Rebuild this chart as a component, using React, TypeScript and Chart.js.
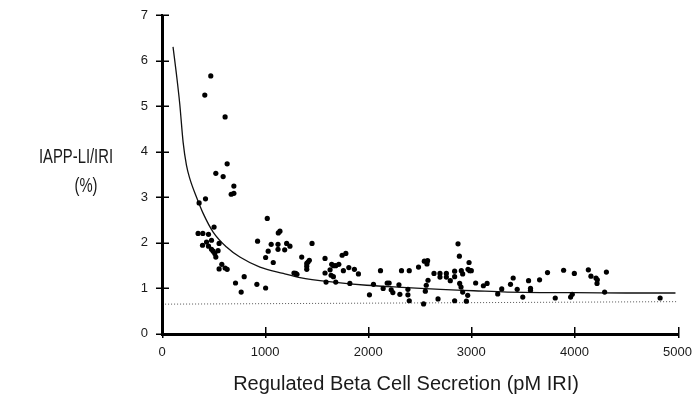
import React, { useEffect, useRef } from "react";
import { Chart, registerables } from "chart.js";

Chart.register(...registerables);

// Regulated beta cell secretion (pM IRI)
const secretionX: number[] = [
  473, 415, 612, 632, 522, 593, 697, 671, 697, 422, 360, 505, 350, 396, 451, 480, 432, 554, 393, 451,
  480, 496, 512, 522, 544, 580, 554, 612, 632, 927, 797, 713, 768, 920, 1021, 1128, 1144, 1059, 1125, 1209,
  1241, 1455, 1030, 1125, 1190, 1005, 1079, 1355, 1429, 1416, 1404, 1404, 1404, 1581, 1280, 1297, 1309, 1581, 1630, 1646,
  1662, 1685, 1715, 1747, 1783, 1759, 1812, 1640, 1662, 1866, 1905, 1591, 1685, 1822, 1005, 2051, 2012, 2119, 2145, 2184,
  2203, 2223, 2239, 2298, 2307, 2323, 2385, 2385, 2398, 2398, 2488, 2544, 2576, 2570, 2580, 2563, 2554, 2537, 2638, 2696,
  2696, 2758, 2758, 2677, 2796, 2838, 2838, 2871, 2884, 2887, 2900, 2838, 2903, 2916, 2916, 2965, 2952, 2978, 2968, 2984,
  3000, 3042, 3117, 3153, 3256, 3295, 3380, 3406, 3445, 3499, 3555, 3574, 3574, 3662, 3739, 3814, 3895, 3999, 3963, 3979,
  4135, 4160, 4209, 4222, 4219, 4310, 4293, 4831,
];
// IAPP-LI/IRI (%)
const ratioY: number[] = [
  5.66, 5.24, 4.76, 3.73, 3.52, 3.45, 3.24, 3.06, 3.08, 2.96, 2.87, 2.34, 2.2, 2.2, 2.18, 2.05, 2.01, 1.98, 1.94, 1.92,
  1.85, 1.81, 1.76, 1.68, 1.82, 1.52, 1.42, 1.44, 1.41, 2.03, 1.25, 1.11, 0.91, 1.08, 2.53, 2.21, 2.25, 1.96, 1.96, 1.98,
  1.92, 1.98, 1.81, 1.85, 1.84, 1.67, 1.56, 1.68, 1.61, 1.57, 1.54, 1.48, 1.41, 1.65, 1.33, 1.32, 1.3, 1.33, 1.4, 1.52,
  1.49, 1.49, 1.52, 1.72, 1.76, 1.38, 1.45, 1.28, 1.25, 1.41, 1.31, 1.13, 1.13, 1.1, 1.0, 1.08, 0.85, 1.38, 0.99, 1.11,
  1.11, 0.96, 0.9, 1.07, 0.86, 1.38, 0.97, 0.85, 0.72, 1.38, 1.46, 1.59, 1.6, 1.53, 1.17, 1.06, 0.93, 0.65, 1.32, 1.32,
  1.24, 1.32, 1.24, 0.76, 1.16, 1.37, 1.25, 1.97, 1.7, 1.1, 1.02, 0.72, 1.38, 1.31, 0.91, 0.84, 0.71, 1.56, 1.41, 1.38,
  1.38, 1.11, 1.05, 1.1, 0.87, 0.98, 1.08, 1.22, 0.97, 0.8, 1.16, 0.99, 0.95, 1.18, 1.34, 0.78, 1.39, 1.32, 0.8, 0.86,
  1.4, 1.26, 1.22, 1.18, 1.1, 1.35, 0.91, 0.78,
];

// Fitted curve
const fitX: number[] = [107, 140, 172, 205, 237, 269, 334, 399, 496, 626, 755, 950, 1176, 1338, 1662, 1986, 2376, 2700, 3023, 3348, 3671, 4000, 4500, 4980];
const fitY: number[] = [6.3, 5.7, 5.05, 4.2, 3.7, 3.41, 3.0, 2.64, 2.23, 1.9, 1.68, 1.46, 1.32, 1.23, 1.13, 1.06, 1.01, 0.97, 0.94, 0.91, 0.9, 0.9, 0.89, 0.89];

// Dotted reference line
const refX: number[] = [30, 5000];
const refY: number[] = [0.645, 0.7];

const xTicks: number[] = [0, 1000, 2000, 3000, 4000, 5000];
const yTicks: number[] = [0, 1, 2, 3, 4, 5, 6, 7];

const yTitle: string[] = ["IAPP-LI/IRI", "(%)"];
const xTitle = "Regulated Beta Cell Secretion (pM IRI)";

const FONT = "'Liberation Sans', Arial, Helvetica, sans-serif";

export default function App() {
  const ref = useRef<HTMLCanvasElement | null>(null);

  useEffect(() => {
    document.body.style.margin = "0";
    const canvas = ref.current!;
    const decor = {
      id: "decor",
      afterDraw(chart: any) {
        const ctx = chart.ctx;
        const xs = chart.scales.x;
        const ys = chart.scales.y;
        const L = Math.round(xs.getPixelForValue(0));
        const T = Math.round(ys.getPixelForValue(7));
        const B = Math.round(ys.getPixelForValue(0));
        const R = Math.round(xs.getPixelForValue(5000));
        ctx.save();
        ctx.setLineDash([]);
        ctx.globalAlpha = 1;
        ctx.globalCompositeOperation = "source-over";
        ctx.fillStyle = "#000";
        // axis lines
        ctx.fillRect(L - 1, T, 3, B - T + 2);
        ctx.fillRect(L - 1, B - 1, R - L + 2, 3);
        // x ticks: mostly inward, a little outward
        for (const v of xTicks) {
          const px = Math.round(xs.getPixelForValue(v));
          ctx.fillRect(px, B - 7, 1.5, 11);
        }
        // y ticks: crossing the axis
        for (const v of yTicks) {
          const py = Math.round(ys.getPixelForValue(v));
          ctx.fillRect(L - 6, py - 0.5, 13, 1.5);
        }
        ctx.fillStyle = "#1a1a1a";
        ctx.textBaseline = "middle";
        ctx.textAlign = "center";
        ctx.font = `20px ${FONT}`;
        // y title in the narrow face of the source figure
        ctx.save();
        ctx.translate(76, 157);
        ctx.scale(0.74, 1);
        ctx.fillText(yTitle[0], 0, 0);
        ctx.restore();
        ctx.save();
        ctx.translate(86, 186);
        ctx.scale(0.74, 1);
        ctx.fillText(yTitle[1], 0, 0);
        ctx.restore();
        ctx.fillText(xTitle, 406, 384);
        ctx.restore();
      },
    };

    const chart = new Chart(canvas, {
      type: "scatter",
      data: {
        datasets: [
          {
            label: "data",
            data: secretionX.map((x, i) => ({ x, y: ratioY[i] })),
            backgroundColor: "#000",
            borderWidth: 0,
            pointRadius: 2.6,
            order: 1,
          },
          {
            label: "fit",
            data: fitX.map((x, i) => ({ x, y: fitY[i] })),
            showLine: true,
            borderColor: "#111",
            borderWidth: 1.3,
            pointRadius: 0,
            cubicInterpolationMode: "monotone",
            order: 2,
          },
          {
            label: "ref",
            data: refX.map((x, i) => ({ x, y: refY[i] })),
            showLine: true,
            borderColor: "#555",
            borderWidth: 1,
            borderDash: [1, 2],
            pointRadius: 0,
            order: 3,
          },
        ],
      },
      options: {
        animation: false,
        responsive: false,
        maintainAspectRatio: false,
        layout: { padding: { left: 0, right: 18, top: 15, bottom: 0 } },
        plugins: { legend: { display: false }, tooltip: { enabled: false } },
        scales: {
          x: {
            type: "linear",
            min: 0,
            max: 5000,
            afterBuildTicks: (s: any) => {
              s.ticks = xTicks.map((v) => ({ value: v }));
            },
            afterFit: (s: any) => {
              s.height = 63.5;
            },
            ticks: {
              color: "#1a1a1a",
              font: { family: FONT, size: 13 },
              padding: 5,
              maxRotation: 0,
              autoSkip: false,
              callback: (v: any) => String(v),
            },
            grid: { display: true, drawOnChartArea: false, color: "rgba(0,0,0,0)", tickLength: 6 },
            border: { display: true, color: "#000", width: 2 },
          },
          y: {
            type: "linear",
            min: 0,
            max: 7,
            afterBuildTicks: (s: any) => {
              s.ticks = yTicks.map((v) => ({ value: v }));
            },
            afterFit: (s: any) => {
              s.width = 162;
            },
            ticks: {
              color: "#1a1a1a",
              font: { family: FONT, size: 13 },
              padding: 7,
              autoSkip: false,
              callback: (v: any) => String(v),
            },
            grid: { display: true, drawOnChartArea: false, color: "rgba(0,0,0,0)", tickLength: 7 },
            border: { display: true, color: "#000", width: 2 },
          },
        },
      },
      plugins: [decor],
    } as any);
    return () => chart.destroy();
  }, []);

  return (
    <div style={{ position: "absolute", left: 0, top: 0, width: 697, height: 397, background: "#fff" }}>
      <canvas ref={ref} width={697} height={397} style={{ display: "block", width: 697, height: 397 }} />
    </div>
  );
}
